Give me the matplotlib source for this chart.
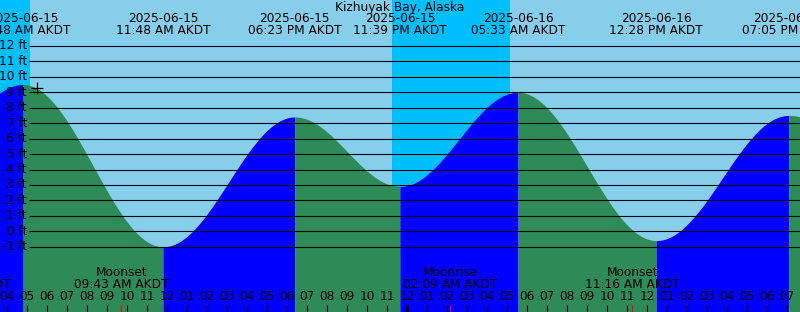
import numpy as np
import pandas as pd
import matplotlib
matplotlib.use("Agg")
import matplotlib.pyplot as plt
from matplotlib.transforms import blended_transform_factory

station = "Kizhuyak Bay, Alaska"

# tide extremes (first and last are just off the chart edges)
tide_times = ["2025-06-14 22:50", "2025-06-15 04:48", "2025-06-15 11:48",
              "2025-06-15 18:23", "2025-06-15 23:39", "2025-06-16 05:33",
              "2025-06-16 12:28", "2025-06-16 19:05", "2025-06-17 01:00"]
tide_heights = [3.4, 9.5, -1.0, 7.4, 2.9, 9.0, -0.6, 7.5, 3.6]

moon_events = ["Moonrise", "Moonset", "Moonrise", "Moonset"]
moon_times = ["2025-06-15 01:48", "2025-06-15 09:43",
              "2025-06-16 02:09", "2025-06-16 11:16"]

sunset_times = ["2025-06-14 23:15", "2025-06-15 23:15"]
sunrise_times = ["2025-06-15 05:09", "2025-06-16 05:09"]

ft_levels = list(range(-1, 13))
mark_time = "2025-06-15 05:30"
mark_level = 9.3

SKY = "#87CEEB"
NIGHT = "#00BFFF"
FALL = "#2E8B57"
RISE = "#0000FF"

day0 = pd.Timestamp("2025-06-15")


def hrs(s):
    return (pd.to_datetime(s) - day0) / pd.Timedelta(hours=1)


W, H = 800, 312
x0, x1 = 3.65, 43.65
y0, y1 = -5.22, 14.97


def yf(py):
    # pixel row -> axes fraction
    return 1 - py / H


plt.rcParams["font.family"] = "DejaVu Sans"
fs = 8.7

fig = plt.figure(figsize=(W / 100, H / 100), dpi=100)
fig.patch.set_facecolor(SKY)
ax = fig.add_axes([0, 0, 1, 1])
ax.set_xlim(x0, x1)
ax.set_ylim(y0, y1)
ax.set_axis_off()
trans = blended_transform_factory(ax.transData, ax.transAxes)

# night shading
for ss, sr in zip(sunset_times, sunrise_times):
    ax.axvspan(hrs(ss), hrs(sr), color=NIGHT, lw=0, zorder=0)

# tide curve, filled by direction
th = [hrs(s) for s in tide_times]
for i in range(len(th) - 1):
    ta, tb = th[i], th[i + 1]
    ha, hb = tide_heights[i], tide_heights[i + 1]
    t = np.linspace(ta, tb, 200)
    h = ha + (hb - ha) * (1 - np.cos(np.pi * (t - ta) / (tb - ta))) / 2
    ax.fill_between(t, h, y0 - 1, color=RISE if hb > ha else FALL,
                    lw=0, zorder=1)

# depth lines and labels
ax.hlines(ft_levels, 5.1, x1, color="black", lw=0.8, zorder=2)
for lv in ft_levels:
    ax.text(5.0, lv, f"{lv} ft", ha="right", va="center", fontsize=fs, zorder=3)

ax.plot(hrs(mark_time), mark_level, "+", color="black", ms=9, mew=0.9, zorder=4)

# title and extreme labels
fig.text(0.5, yf(7), station, ha="center", va="center", fontsize=fs)
for s in tide_times:
    ts = pd.to_datetime(s)
    t = hrs(s)
    if x0 - 3 < t < x1 + 3:
        ax.text(t, yf(19), ts.strftime("%Y-%m-%d"), transform=trans,
                ha="center", va="center", fontsize=fs, clip_on=False)
        ax.text(t, yf(31), ts.strftime("%I:%M %p AKDT"), transform=trans,
                ha="center", va="center", fontsize=fs, clip_on=False)

# hour ticks
hours = np.arange(4, 44)
for hh in hours:
    lab = f"{(hh % 12) or 12:02d}"
    ax.text(hh, yf(297), lab, transform=trans, ha="center", va="center",
            fontsize=fs, zorder=3)
    lw = 2.2 if hh % 24 == 0 else 0.8
    ax.plot([hh, hh], [0, yf(305)], transform=trans, color="black", lw=lw,
            solid_capstyle="butt", zorder=3)

# moon events
for name, s in zip(moon_events, moon_times):
    ts = pd.to_datetime(s)
    t = hrs(s)
    ax.text(t, yf(272), name, transform=trans, ha="center", va="center",
            fontsize=fs, clip_on=False, zorder=3)
    ax.text(t, yf(284), ts.strftime("%I:%M %p AKDT"), transform=trans,
            ha="center", va="center", fontsize=fs, clip_on=False, zorder=3)
    ax.plot([t, t], [0, yf(305)], transform=trans, color="red", lw=0.8,
            solid_capstyle="butt", zorder=3)

fig.savefig("out.png", dpi=100, facecolor=SKY)
